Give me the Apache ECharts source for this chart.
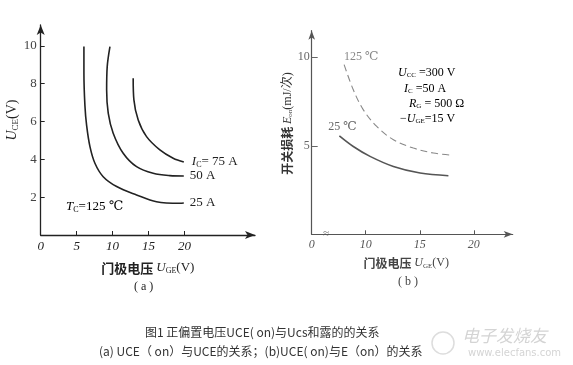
<!DOCTYPE html>
<html><head><meta charset="utf-8">
<script src="https://cdn.jsdelivr.net/npm/echarts@6/dist/echarts.min.js"></script>
<style>html,body{margin:0;padding:0;background:#fff}#c{width:573px;height:365px}</style>
</head><body><div id="c"></div>
<script>
// Left chart (a): U_CE vs U_GE at Tc=125 ℃
const ic25 = [[6.01,9.96],[6.01,8.56],[6.15,6.84],[6.39,5.78],[6.85,4.67],[7.54,3.79],[8.69,3.08],[10.56,2.56],[13.33,2.12],[16.1,1.76],[19.35,1.68],[19.9,1.69]];
const ic50 = [[9.63,9.96],[9.25,8.9],[9.17,7.67],[9.39,6.44],[10.08,5.38],[11.47,4.32],[13.33,3.61],[15.64,3.26],[17.96,3.14],[19.9,3.12]];
const ic75 = [[12.86,8.29],[12.96,7.14],[13.56,6.08],[14.72,5.2],[16.57,4.5],[18.42,4.06],[19.9,3.86]];
const leftXTicks = [0,5,10,15,20];
const leftYTicks = [2,4,6,8,10];
// Right chart (b): E_on vs U_GE
const e125 = [[8.0,9.58],[8.85,8.16],[9.78,7.03],[11.02,6.09],[12.56,5.34],[14.41,4.87],[16.26,4.59],[17.95,4.47]];
const e25 = [[7.56,5.56],[8.85,4.96],[10.4,4.4],[12.56,3.83],[15.03,3.46],[17.65,3.31]];
const rightXTicks = [5,10,15,20];
const rightXLabels = ['0','10','15','20'];
const rightYTicks = [5,10];

const serif = '"Liberation Serif","DejaVu Serif","Noto Sans CJK SC",serif';
const cjk = '"Noto Sans CJK SC","Liberation Serif",serif';
const dark = '#222';
const gray = '#777';

const chart = echarts.init(document.getElementById('c'));

const richBase = (col, fs) => ({
  i: {fontFamily: serif, fontStyle: 'italic', fontSize: fs, color: col},
  s: {fontFamily: serif, fontSize: Math.round(fs*0.62), color: col, padding: [Math.round(fs*0.45),0,0,0]},
  n: {fontFamily: serif, fontSize: fs, color: col},
  c: {fontFamily: cjk, fontSize: fs, color: col, fontWeight: 'bold'}
});

function startMark(data, text, pos, col) {
  return {
    symbol: 'circle', symbolSize: 0, silent: true,
    data: [{coord: data[0], label: {show: true, position: pos, formatter: text, fontFamily: serif, fontSize: 12, color: col}}]
  };
}

const option = {
  animation: false,
  backgroundColor: '#fff',
  grid: [
    {left: 40.7, top: 25, width: 214.3, height: 210, containLabel: false},
    {left: 311.7, top: 30.7, width: 201, height: 203.6, containLabel: false}
  ],
  xAxis: [
    {gridIndex: 0, type: 'value', min: 0, max: 29.8,
     axisLine: {show: true, lineStyle: {color: dark, width: 1.3}, symbol: ['none','arrow'], symbolSize: [6,10]},
     axisTick: {show: true, inside: true, length: 4, customValues: [5,10,15,20], lineStyle: {color: dark}},
     axisLabel: {customValues: leftXTicks, fontFamily: serif, fontStyle: 'italic', fontSize: 13, color: dark, margin: 5},
     splitLine: {show: false},
     name: '{c|门极电压 }{i|U}{s|GE}{n|(V)}', nameLocation: 'middle', nameGap: 26,
     nameTextStyle: {rich: richBase(dark, 13)}
    },
    {gridIndex: 1, type: 'value', min: 5, max: 23.6,
     axisLine: {show: true, lineStyle: {color: '#555', width: 1.2}, symbol: ['none','arrow'], symbolSize: [5,9]},
     axisTick: {show: true, inside: true, length: 4, customValues: [10,15,20], lineStyle: {color: '#555'}},
     axisLabel: {customValues: rightXTicks, formatter: v => rightXLabels[rightXTicks.indexOf(v)], fontFamily: serif, fontStyle: 'italic', fontSize: 12, color: '#555', margin: 5},
     splitLine: {show: false},
     name: '{c|门极电压 }{i|U}{s|GE}{n|(V)}', nameLocation: 'middle', nameGap: 23,
     nameTextStyle: {rich: richBase('#444', 12), padding: [0,12,0,0]}
    }
  ],
  yAxis: [
    {gridIndex: 0, type: 'value', min: 0, max: 11.1,
     axisLine: {show: true, lineStyle: {color: dark, width: 1.3}, symbol: ['none','arrow'], symbolSize: [6,10]},
     axisTick: {show: true, inside: true, length: 4, customValues: leftYTicks, lineStyle: {color: dark}},
     axisLabel: {customValues: leftYTicks, fontFamily: serif, fontSize: 13, color: '#444', margin: 4},
     splitLine: {show: false},
     name: '{i|U}{s|CE}{n|(V)}', nameLocation: 'middle', nameRotate: 90, nameGap: 20,
     nameTextStyle: {rich: richBase(dark, 14), padding: [0,0,0,20]}
    },
    {gridIndex: 1, type: 'value', min: 0, max: 11.5,
     axisLine: {show: true, lineStyle: {color: '#555', width: 1.2}, symbol: ['none','arrow'], symbolSize: [5,9]},
     axisTick: {show: true, inside: true, length: 6, customValues: rightYTicks, lineStyle: {color: '#666'}},
     axisLabel: {customValues: rightYTicks, fontFamily: serif, fontSize: 12, color: '#666', margin: 2},
     splitLine: {show: false},
     name: '{c|开关损耗 }{i|E}{s|on}{n|(mJ/次)}', nameLocation: 'middle', nameRotate: 90, nameGap: 15,
     nameTextStyle: {rich: richBase('#333', 12), padding: [0,0,0,18]}
    }
  ],
  series: [
    {type: 'line', xAxisIndex: 0, yAxisIndex: 0, data: ic25, smooth: 0.35, showSymbol: false, lineStyle: {color: dark, width: 1.6},
     endLabel: {show: true, distance: 6, formatter: '25 A', fontFamily: serif, fontSize: 13, color: dark}},
    {type: 'line', xAxisIndex: 0, yAxisIndex: 0, data: ic50, smooth: 0.35, showSymbol: false, lineStyle: {color: dark, width: 1.6},
     endLabel: {show: true, distance: 6, formatter: '50 A', fontFamily: serif, fontSize: 13, color: dark}},
    {type: 'line', xAxisIndex: 0, yAxisIndex: 0, data: ic75, smooth: 0.35, showSymbol: false, lineStyle: {color: dark, width: 1.6},
     endLabel: {show: true, distance: 8, formatter: '{i|I}{s|C}{n|= 75 A}', rich: richBase(dark, 13)}},
    {type: 'line', xAxisIndex: 1, yAxisIndex: 1, data: e125, smooth: 0.35, showSymbol: false,
     lineStyle: {color: '#888', width: 1.1, type: [7,4]},
     markPoint: startMark(e125, '125 ℃', [0,-14], '#888')},
    {type: 'line', xAxisIndex: 1, yAxisIndex: 1, data: e25, smooth: 0.35, showSymbol: false,
     lineStyle: {color: '#555', width: 1.6},
     markPoint: startMark(e25, '25 ℃', [-11,-15], '#666')}
  ],
  graphic: [
    {type: 'text', left: 66, top: 200, style: {text: '{i|T}{s|C}{n|=125 ℃}', rich: richBase(dark, 13)}},
    {type: 'text', left: 134, top: 281, style: {text: '( a )', font: '12px ' + serif, fill: dark}},
    {type: 'text', left: 398, top: 276, style: {text: '( b )', font: '12px ' + serif, fill: '#444'}},
    {type: 'text', left: 323, top: 229, style: {text: '≈', font: 'italic 11px ' + serif, fill: '#666'}},
    {type: 'text', left: 398, top: 67, style: {text: '{i|U}{s|CC}{n| =300 V}', rich: richBase(gray, 12)}},
    {type: 'text', left: 404, top: 83, style: {text: '{i|I}{s|C}{n| =50 A}', rich: richBase(gray, 12)}},
    {type: 'text', left: 409, top: 98, style: {text: '{i|R}{s|G}{n| = 500 Ω}', rich: richBase(gray, 12)}},
    {type: 'text', left: 400, top: 113, style: {text: '{n|−}{i|U}{s|GE}{n|=15 V}', rich: richBase(gray, 12)}},
    {type: 'text', left: 145, top: 326, style: {text: '图1 正偏置电压UCE( on)与Ucs和露的的关系', font: '12px "Noto Sans CJK SC",sans-serif', fill: '#333'}},
    {type: 'text', left: 99, top: 345, style: {text: '(a) UCE（ on）与UCE的关系；(b)UCE( on)与E（on）的关系', font: '12px "Noto Sans CJK SC",sans-serif', fill: '#333'}},
    {type: 'circle', shape: {cx: 443, cy: 343, r: 11}, style: {fill: 'none', stroke: '#ddd', lineWidth: 1.5}},
    {type: 'text', left: 462, top: 327, style: {text: '电子发烧友', font: 'italic 17px "Noto Sans CJK SC",sans-serif', fill: '#d4d4d4'}},
    {type: 'text', left: 468, top: 348, style: {text: 'www.elecfans.com', font: '10px "DejaVu Sans",sans-serif', fill: '#d4d4d4'}}
  ]
};
chart.setOption(option);
</script></body></html>
